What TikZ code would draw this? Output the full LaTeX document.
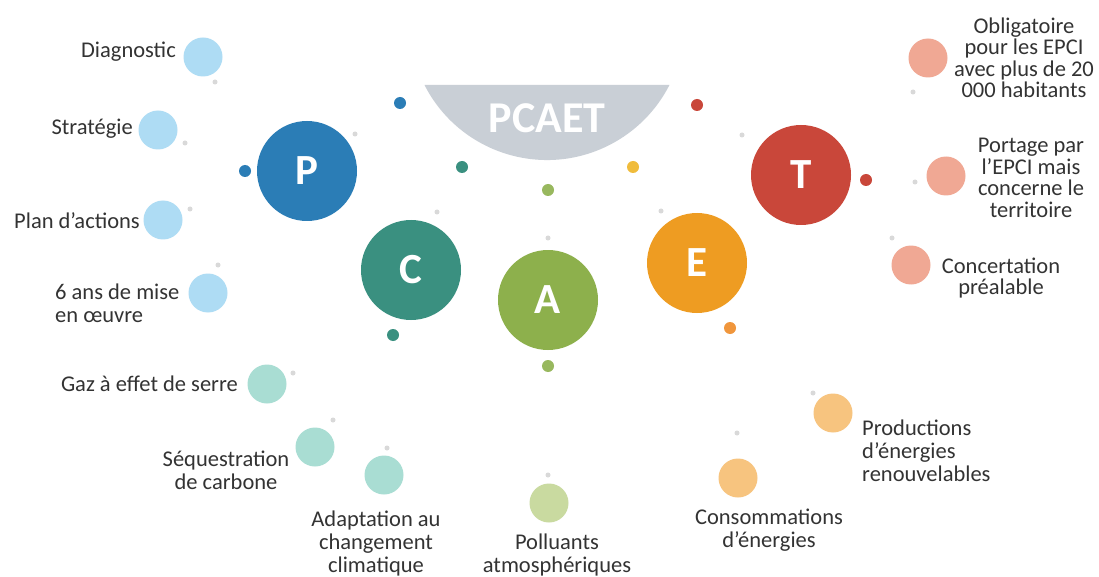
\documentclass[tikz,border=0pt]{standalone}
\usepackage{fontspec}
\setmainfont{Carlito}
\definecolor{cP}{HTML}{2B7DB6}
\definecolor{cC}{HTML}{3A9080}
\definecolor{cA}{HTML}{8DB04C}
\definecolor{cE}{HTML}{EE9C22}
\definecolor{cT}{HTML}{C9473A}
\definecolor{lP}{HTML}{AEDCF4}
\definecolor{lC}{HTML}{A9DDD3}
\definecolor{lA}{HTML}{C9DAA0}
\definecolor{lE}{HTML}{F7C47F}
\definecolor{lT}{HTML}{F0A894}
\definecolor{dyel}{HTML}{F0BC3C}
\definecolor{dora}{HTML}{F0963C}
\definecolor{tinyg}{HTML}{D9D9D9}
\definecolor{pcaet}{HTML}{C9CFD6}
\definecolor{txt}{HTML}{333333}
\tikzset{
  bigc/.style={circle, minimum size=100pt, inner sep=0pt, text=white,
    font=\fontsize{43}{43}\selectfont\bfseries},
  subc/.style={circle, minimum size=39pt, inner sep=0pt},
  dotc/.style={circle, minimum size=12pt, inner sep=0pt},
  tinyc/.style={circle, fill=tinyg, minimum size=5pt, inner sep=0pt},
  lbl/.style={text=txt, font=\fontsize{22.5}{23}\selectfont, inner sep=0pt, align=center},
  lbltight/.style={lbl, font=\fontsize{22.5}{21.5}\selectfont}
}
\begin{document}
\begin{tikzpicture}[x=1pt, y=-1pt]
\useasboundingbox[fill=white] (0,0) rectangle (1099,577);

% PCAET segment
\fill[pcaet] (424.5,85) arc[start angle=152.97, end angle=27.03, radius=137.5] -- cycle;
\node[text=white, font=\fontsize{44}{44}\selectfont\bfseries, inner sep=0pt] (pcaet) at (547,118) {PCAET};

% big circles
\node[bigc, fill=cP] (P) at (307,171) {P};
\node[bigc, fill=cC] (C) at (411,270) {C};
\node[bigc, fill=cA] (A) at (548,300) {A};
\node[bigc, fill=cE] (E) at (697,263) {E};
\node[bigc, fill=cT] (T) at (801,175) {T};

% small coloured dots
\node[dotc, fill=cP] (dp1) at (245,171) {};
\node[dotc, fill=cP] (dp2) at (400,103) {};
\node[dotc, fill=cC] (dc1) at (462,167) {};
\node[dotc, fill=cC] (dc2) at (393,335) {};
\node[dotc, fill=cA!90!white] (da1) at (548,190) {};
\node[dotc, fill=cA!90!white] (da2) at (548,366) {};
\node[dotc, fill=dyel] (de1) at (633,167) {};
\node[dotc, fill=dora] (de2) at (730,328) {};
\node[dotc, fill=cT] (dt1) at (697,105) {};
\node[dotc, fill=cT] (dt2) at (866,180) {};

% tiny grey dots
\node[tinyc] (g1) at (215,82) {};
\node[tinyc] (g2) at (185,143) {};
\node[tinyc] (g3) at (190,209) {};
\node[tinyc] (g4) at (218,265) {};
\node[tinyc] (g5) at (355,134) {};
\node[tinyc] (g6) at (437,212) {};
\node[tinyc] (g7) at (548,238) {};
\node[tinyc] (g8) at (661,211) {};
\node[tinyc] (g9) at (742,135) {};
\node[tinyc] (g10) at (913,92) {};
\node[tinyc] (g11) at (915,182) {};
\node[tinyc] (g12) at (892,238) {};
\node[tinyc] (g13) at (293,373) {};
\node[tinyc] (g14) at (333,420) {};
\node[tinyc] (g15) at (387,448) {};
\node[tinyc] (g16) at (548,475) {};
\node[tinyc] (g17) at (737,433) {};
\node[tinyc] (g18) at (813,393) {};

% P sub-items
\node[subc, fill=lP] (p1) at (203,57) {};
\node[subc, fill=lP] (p2) at (158,130) {};
\node[subc, fill=lP] (p3) at (163,220) {};
\node[subc, fill=lP] (p4) at (208,293) {};
\node[lbl, anchor=east] (tp1) at (176,52) {Diagnostic};
\node[lbl, anchor=east] (tp2) at (133,129) {Stratégie};
\node[lbl, anchor=east] (tp3) at (140,221) {Plan d’actions};
\node[lbl, anchor=west, align=left] (tp4) at (55,303.5) {6 ans de mise\\en œuvre};

% C sub-items
\node[subc, fill=lC] (c1) at (267,384) {};
\node[subc, fill=lC] (c2) at (315,447) {};
\node[subc, fill=lC] (c3) at (384,475) {};
\node[lbl, anchor=east] (tc1) at (238,384) {Gaz à effet de serre};
\node[lbl] (tc2) at (226,470) {Séquestration\\de carbone};
\node[lbl] (tc3) at (376,543) {Adaptation au\\changement\\climatique};

% A sub-item
\node[subc, fill=lA] (a1) at (549,503) {};
\node[lbl] (ta1) at (557,555) {Polluants\\atmosphériques};

% E sub-items
\node[subc, fill=lE] (e1) at (738,478) {};
\node[subc, fill=lE] (e2) at (833,413) {};
\node[lbl] (te1) at (769,530) {Consommations\\d’énergies};
\node[lbl, anchor=west, align=left] (te2) at (862,451) {Productions\\d’énergies\\renouvelables};

% T sub-items
\node[subc, fill=lT] (t1) at (928,58) {};
\node[subc, fill=lT] (t2) at (946,176) {};
\node[subc, fill=lT] (t3) at (911,265) {};
\node[lbltight] (tt1) at (1024,58) {Obligatoire\\pour les EPCI\\avec plus de 20\\000 habitants};
\node[lbltight] (tt2) at (1031,178) {Portage par\\l’EPCI mais\\concerne le\\territoire};
\node[lbltight] (tt3) at (1001,278) {Concertation\\préalable};
\end{tikzpicture}
\end{document}
